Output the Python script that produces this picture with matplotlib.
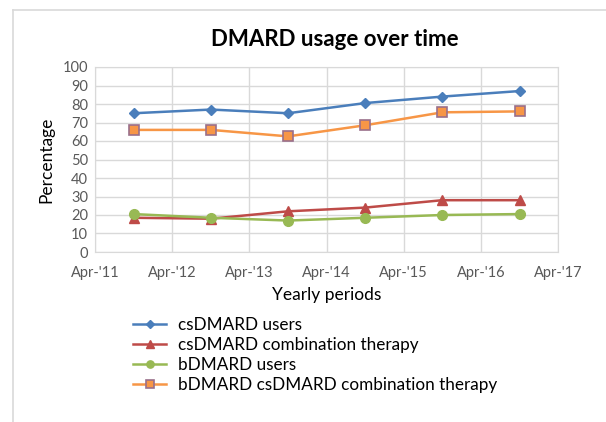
import datetime as dt
import matplotlib
matplotlib.use("Agg")
import matplotlib.pyplot as plt
from matplotlib.lines import Line2D

plt.rcParams["font.family"] = ["Lato", "DejaVu Sans"]

# ---- data ----
periods = [dt.date(2011, 10, 1), dt.date(2012, 10, 1), dt.date(2013, 10, 1),
           dt.date(2014, 10, 1), dt.date(2015, 10, 1), dt.date(2016, 10, 1)]
csdmard_users = [75, 77, 75, 80.5, 84, 87]
csdmard_combo = [18.5, 18, 22, 24, 28, 28]
bdmard_users = [20.5, 18.5, 17, 18.5, 20, 20.5]
bdmard_csdmard_combo = [66, 66, 62.5, 68.5, 75.5, 76]

tick_dates = [dt.date(y, 4, 1) for y in range(2011, 2018)]
tick_labels = ["Apr-'11", "Apr-'12", "Apr-'13", "Apr-'14", "Apr-'15", "Apr-'16", "Apr-'17"]

# ---- figure ----
fig = plt.figure(figsize=(6.06, 4.22), dpi=100)
ax = fig.add_axes([95 / 606, 1 - 252 / 422, (558 - 95) / 606, (252 - 67) / 422])

ax.plot(periods, csdmard_users, color="#4A7EBB", marker="D", markersize=5,
        linewidth=1.8, label="csDMARD users")
ax.plot(periods, csdmard_combo, color="#BE4B48", marker="^", markersize=7,
        linewidth=1.8, label="csDMARD combination therapy")
ax.plot(periods, bdmard_users, color="#98B954", marker="o", markersize=7,
        linewidth=1.8, label="bDMARD users")
ax.plot(periods, bdmard_csdmard_combo, color="#F79646", marker="s", markersize=7,
        markerfacecolor="#F79646", markeredgecolor="#9A6F8A", markeredgewidth=1.2,
        linewidth=1.8, label="bDMARD csDMARD combination therapy")

ax.set_xlim(tick_dates[0], tick_dates[-1])
ax.set_xticks(tick_dates)
ax.set_xticklabels(tick_labels)
ax.set_ylim(0, 100)
ax.set_yticks(range(0, 101, 10))

ax.grid(True, color="#D9D9D9", linewidth=1)
ax.set_axisbelow(True)
for s in ax.spines.values():
    s.set_color("#D9D9D9")
ax.tick_params(length=0, labelsize=10.5, labelcolor="#595959", pad=5)
ax.tick_params(axis="x", pad=10)

ax.set_xlabel("Yearly periods", fontsize=12.5, labelpad=5)
ax.set_ylabel("Percentage", fontsize=12.5, labelpad=6)
fig.text(335 / 606, 1 - 40 / 422, "DMARD usage over time", ha="center", va="center",
         fontsize=16, fontweight="bold")

ax.legend(loc="upper left", bbox_to_anchor=(118 / 606, 1 - 302 / 422),
          bbox_transform=fig.transFigure, frameon=False, fontsize=12.3,
          handlelength=1.9, labelspacing=0.22, handletextpad=0.7, markerscale=0.75)

# outer chart border (top and left only visible)
fig.add_artist(Line2D([13 / 606, 13 / 606], [0, 1 - 10 / 422], color="#D9D9D9",
                      linewidth=1.2, transform=fig.transFigure))
fig.add_artist(Line2D([13 / 606, 1], [1 - 10 / 422, 1 - 10 / 422], color="#D9D9D9",
                      linewidth=1.2, transform=fig.transFigure))

fig.savefig("out.png", dpi=100)
